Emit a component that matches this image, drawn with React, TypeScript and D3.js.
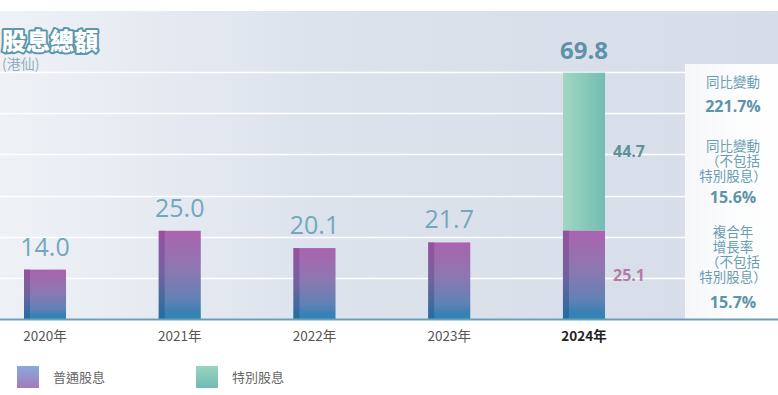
import { useRef, useEffect } from 'react';
import * as d3 from 'd3';

const YEARS = ['2020年', '2021年', '2022年', '2023年', '2024年'];
const ORDINARY = [14.0, 25.0, 20.1, 21.7, 25.1];
const SPECIAL = [0, 0, 0, 0, 44.7];
const TOTALS = ['14.0', '25.0', '20.1', '21.7', '69.8'];
const GRID_TICKS = [0, 1, 2, 3, 4, 5, 6].map(i => (70 / 6) * i);

const SIDE_LABELS = [
  ['同比變動'],
  ['同比變動', '（不包括', '特別股息）'],
  ['複合年', '增長率', '（不包括', '特別股息）'],
];
const SIDE_VALUES = ['221.7%', '15.6%', '15.7%'];
const SIDE_LABEL_Y = [82, 146, 232];
const SIDE_VALUE_Y = [106, 197, 302];

const LEGEND = [
  { label: '普通股息', grad: 'legOrd' },
  { label: '特別股息', grad: 'legSpec' },
];

const W = 778;
const H = 395;
const BASE = 319;
const TOP = 72;
const CJK = '"Noto Sans CJK TC", "Noto Sans", sans-serif';
const NUM = '"Open Sans", "Noto Sans", sans-serif';

export default function App() {
  const svgRef = useRef<SVGSVGElement>(null);

  useEffect(() => {
    document.body.style.margin = '0';
    if (!svgRef.current) return;
    const svg = d3.select(svgRef.current);
    svg.selectAll('*').remove();

    const x = d3.scaleBand().domain(YEARS).range([24, 605]).paddingInner(0.688).paddingOuter(0);
    const y = d3.scaleLinear().domain([0, 70]).range([BASE, TOP]);
    const bw = x.bandwidth();

    const defs = svg.append('defs');
    const lin = (id: string, stops: [number, string, number?][], vertical = true) => {
      const g = defs.append('linearGradient').attr('id', id)
        .attr('x1', 0).attr('y1', 0).attr('x2', vertical ? 0 : 1).attr('y2', vertical ? 1 : 0);
      stops.forEach(([o, c, op]) => g.append('stop').attr('offset', o).attr('stop-color', c).attr('stop-opacity', op ?? 1));
    };
    lin('bg', [[0, '#eef2f7'], [0.4, '#dde3ed'], [1, '#d6dde8']], false);
    lin('ord', [[0, '#ab63af'], [0.45, '#8c78b0'], [0.8, '#5f82b6'], [0.92, '#3a80b4'], [1, '#2b86b8']]);
    lin('ordDark', [[0, '#934f9c'], [0.5, '#6c5f9c'], [1, '#1f6a9c']]);
    lin('spec', [[0, '#a2d7c2'], [1, '#73bdb3']], false);
    lin('panel', [[0, '#ffffff', 0.75], [0.5, '#ffffff', 0.92], [1, '#ffffff', 0.98]], false);
    lin('legOrd', [[0, '#88aadc'], [1, '#a479bd']]);
    lin('legSpec', [[0, '#9ad4bd'], [1, '#70bbb4']]);

    // background panel
    svg.append('rect').attr('x', 0).attr('y', 11).attr('width', W).attr('height', BASE - 11).attr('fill', 'url(#bg)');

    // grid lines
    svg.append('g').selectAll('line').data(GRID_TICKS.slice(1)).join('line')
      .attr('x1', 0).attr('x2', 685)
      .attr('y1', d => Math.round(y(d)) + 0.5).attr('y2', d => Math.round(y(d)) + 0.5)
      .attr('stroke', '#ffffff').attr('stroke-width', 1.5);

    // ordinary bars
    const bars = svg.append('g');
    bars.selectAll('rect.ord').data(ORDINARY).join('rect').attr('class', 'ord')
      .attr('x', (_, i) => x(YEARS[i])!).attr('y', d => y(d))
      .attr('width', bw).attr('height', d => BASE - y(d)).attr('fill', 'url(#ord)');
    bars.selectAll('rect.ordL').data(ORDINARY).join('rect').attr('class', 'ordL')
      .attr('x', (_, i) => x(YEARS[i])!).attr('y', d => y(d))
      .attr('width', 6).attr('height', d => BASE - y(d)).attr('fill', 'url(#ordDark)').attr('opacity', 0.85);

    // special bars
    bars.selectAll('rect.spec').data(SPECIAL).join('rect').attr('class', 'spec')
      .attr('x', (_, i) => x(YEARS[i])!).attr('y', (d, i) => y(ORDINARY[i] + d))
      .attr('width', bw).attr('height', (d, i) => y(ORDINARY[i]) - y(ORDINARY[i] + d)).attr('fill', 'url(#spec)');

    // totals on top
    svg.append('g').selectAll('text').data(TOTALS).join('text')
      .attr('x', (_, i) => x(YEARS[i])! + bw / 2)
      .attr('y', (_, i) => y(ORDINARY[i] + SPECIAL[i]) - 14)
      .attr('text-anchor', 'middle').attr('font-family', NUM)
      .attr('font-size', (_, i) => (i === 4 ? 24 : 25))
      .attr('font-weight', (_, i) => (i === 4 ? 700 : 400))
      .attr('fill', (_, i) => (i === 4 ? '#5d93a9' : '#74a7bb'))
      .text(d => d);

    // segment labels for 2024
    const last = YEARS.length - 1;
    const lx = x(YEARS[last])! + bw + 8;
    svg.append('text').attr('x', lx).attr('y', (y(ORDINARY[last]) + y(ORDINARY[last] + SPECIAL[last])) / 2)
      .attr('dy', '0.35em').attr('font-family', NUM).attr('font-size', 16).attr('font-weight', 700)
      .attr('fill', '#5f9298').text(SPECIAL[last].toFixed(1));
    svg.append('text').attr('x', lx).attr('y', (BASE + y(ORDINARY[last])) / 2 + 1)
      .attr('dy', '0.35em').attr('font-family', NUM).attr('font-size', 16).attr('font-weight', 700)
      .attr('fill', '#b27ca9').text(ORDINARY[last].toFixed(1));

    // side panel
    svg.append('rect').attr('x', 685).attr('y', 64).attr('width', W - 685).attr('height', BASE - 64).attr('fill', 'url(#panel)');
    const side = svg.append('g').attr('text-anchor', 'middle');
    side.selectAll('text.lab').data(SIDE_LABELS).join('text').attr('class', 'lab')
      .attr('y', (_, i) => SIDE_LABEL_Y[i]).attr('dy', '0.35em')
      .attr('font-family', CJK).attr('font-size', 13.5).attr('fill', '#6a9db2')
      .selectAll('tspan').data(d => d).join('tspan')
      .attr('x', 733).attr('dy', (_, j) => (j === 0 ? '0.35em' : 15.2))
      .text(d => d);
    side.selectAll('text.val').data(SIDE_VALUES).join('text').attr('class', 'val')
      .attr('x', 733).attr('y', (_, i) => SIDE_VALUE_Y[i]).attr('dy', '0.35em')
      .attr('font-family', NUM).attr('font-size', 16).attr('font-weight', 700).attr('fill', '#5f93a8')
      .text(d => d);

    // baseline
    svg.append('line').attr('x1', 0).attr('x2', W).attr('y1', BASE + 0.5).attr('y2', BASE + 0.5)
      .attr('stroke', '#6c9fb4').attr('stroke-width', 2);

    // x axis labels
    svg.append('g').selectAll('text').data(YEARS).join('text')
      .attr('x', d => x(d)! + bw / 2).attr('y', 336).attr('dy', '0.35em')
      .attr('text-anchor', 'middle').attr('font-family', CJK).attr('font-size', 13.5)
      .attr('font-weight', (_, i) => (i === last ? 700 : 400))
      .attr('fill', (_, i) => (i === last ? '#222' : '#555'))
      .text(d => d);

    // title
    svg.append('text').attr('x', 2).attr('y', 50).attr('font-family', CJK).attr('font-size', 24)
      .attr('font-weight', 900).attr('fill', '#ffffff').attr('stroke', '#5c97ad').attr('stroke-width', 4)
      .attr('paint-order', 'stroke').attr('stroke-linejoin', 'round').text('股息總額');
    svg.append('text').attr('x', 2).attr('y', 69).attr('font-family', CJK).attr('font-size', 14)
      .attr('fill', '#94adbd').text('(港仙)');

    // legend
    const leg = svg.append('g').selectAll('g').data(LEGEND).join('g')
      .attr('transform', (_, i) => `translate(${17 + i * 179},366)`);
    leg.append('rect').attr('width', 22).attr('height', 22).attr('fill', d => `url(#${d.grad})`);
    leg.append('text').attr('x', 36).attr('y', 11).attr('dy', '0.35em')
      .attr('font-family', CJK).attr('font-size', 13).attr('fill', '#666').text(d => d.label);
  }, []);

  return <svg ref={svgRef} width={W} height={H} style={{ display: 'block', background: '#fff' }} />;
}
